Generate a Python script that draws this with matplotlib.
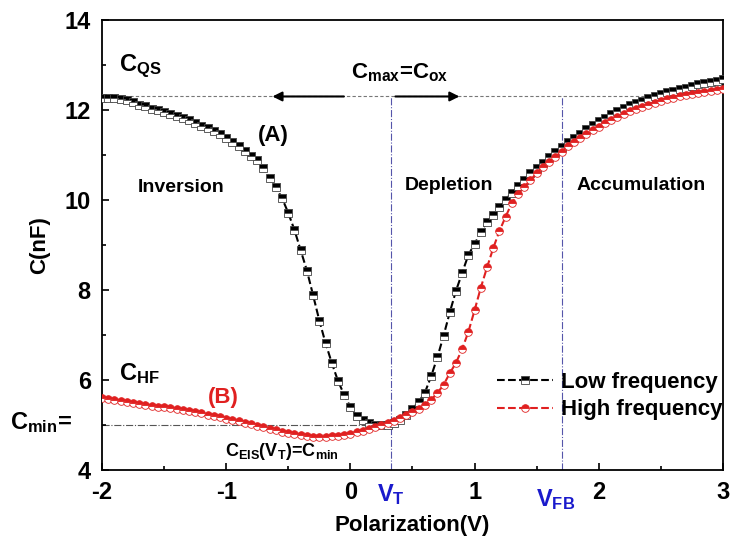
import numpy as np
import matplotlib
matplotlib.use('Agg')
import matplotlib.pyplot as plt
from matplotlib.ticker import MultipleLocator

# # # # # # # # # # # # # # # # # # # # # # # # # # # # # # # # # # # # # # #
# data (one point every 0.05 V, from -2 V to 3 V)

bias = np.linspace(-2.0, 3.0, 101)

low_freq = [
  12.27, 12.27, 12.26, 12.24, 12.22, 12.17, 12.12, 12.08, 12.03, 11.99,
  11.96, 11.92, 11.87, 11.82, 11.77, 11.71, 11.65, 11.59, 11.54, 11.47,
  11.38, 11.28, 11.19, 11.09, 10.98, 10.88, 10.72, 10.48, 10.28, 10.04,
  9.71, 9.33, 8.88, 8.43, 7.88, 7.32, 6.82, 6.38, 5.98, 5.67,
  5.40, 5.20, 5.10, 5.04, 5.01, 5.00, 5.01, 5.04, 5.12, 5.23,
  5.36, 5.51, 5.72, 6.08, 6.50, 6.98, 7.50, 7.98, 8.38, 8.78,
  9.02, 9.29, 9.51, 9.67, 9.84, 10.01, 10.16, 10.30, 10.44, 10.59,
  10.71, 10.83, 10.95, 11.07, 11.18, 11.29, 11.38, 11.47, 11.57, 11.67,
  11.75, 11.83, 11.90, 11.98, 12.05, 12.11, 12.16, 12.20, 12.26, 12.30,
  12.35, 12.39, 12.43, 12.46, 12.49, 12.53, 12.57, 12.60, 12.63, 12.65,
  12.68]

high_freq = [
  5.60, 5.58, 5.56, 5.54, 5.52, 5.49, 5.47, 5.45, 5.43, 5.41,
  5.39, 5.37, 5.35, 5.33, 5.31, 5.29, 5.26, 5.23, 5.20, 5.17,
  5.14, 5.11, 5.08, 5.05, 5.02, 4.98, 4.95, 4.92, 4.88, 4.85,
  4.82, 4.79, 4.77, 4.75, 4.74, 4.73, 4.73, 4.75, 4.76, 4.78,
  4.81, 4.84, 4.87, 4.91, 4.95, 5.00, 5.04, 5.08, 5.15, 5.22,
  5.28, 5.35, 5.44, 5.56, 5.71, 5.89, 6.15, 6.38, 6.69, 7.07,
  7.55, 8.05, 8.50, 8.93, 9.31, 9.63, 9.93, 10.13, 10.29, 10.44,
  10.60, 10.73, 10.84, 10.96, 11.07, 11.19, 11.28, 11.37, 11.47, 11.55,
  11.63, 11.71, 11.78, 11.85, 11.91, 11.97, 12.02, 12.07, 12.12, 12.16,
  12.20, 12.24, 12.27, 12.30, 12.33, 12.36, 12.38, 12.40, 12.42, 12.44,
  12.46]

c_ox = 12.3    # C_max = C_ox
c_min = 5.0
v_t = 0.33
v_fb = 1.70

# # # # # # # # # # # # # # # # # # # # # # # # # # # # # # # # # # # # # # #

plt.rcParams['font.family'] = ['Liberation Sans', 'DejaVu Sans']
plt.rcParams['font.weight'] = 'bold'
plt.rcParams['axes.labelweight'] = 'bold'
plt.rcParams['axes.unicode_minus'] = False
plt.rcParams['mathtext.fontset'] = 'custom'
plt.rcParams['mathtext.rm'] = 'Liberation Sans:bold'
plt.rcParams['mathtext.it'] = 'Liberation Sans:bold'
plt.rcParams['mathtext.bf'] = 'Liberation Sans:bold'

fig = plt.figure(figsize=(7.3, 5.52), dpi=100)
ax = fig.add_axes([0.1397, 0.1486, 0.8507, 0.8152])

# guide lines
ax.plot([-2, 2.5], [c_ox, c_ox], color='#777777', ls=(0, (3, 2)), lw=0.8, zorder=1)
ax.plot([-2, v_t], [c_min, c_min], color='#555555', ls='-.', lw=0.8, zorder=1)
ax.plot([v_t, v_t], [4, c_ox], color='#5555aa', ls='-.', lw=0.8, zorder=1)
ax.plot([v_fb, v_fb], [4, c_ox], color='#5555aa', ls='-.', lw=0.8, zorder=1)

# curves
ax.plot(bias, low_freq, color='black', ls='--', lw=1.5, marker='s', ms=5.5,
        fillstyle='top', markerfacecolor='black', markerfacecoloralt='white',
        markeredgecolor='#444444', markeredgewidth=0.6, label='Low frequency', zorder=3)
ax.plot(bias, high_freq, color='#e02020', ls='--', lw=1.5, marker='o', ms=5.5,
        fillstyle='top', markerfacecolor='#e02020', markerfacecoloralt='white',
        markeredgecolor='#e02020', markeredgewidth=0.6, label='High frequency', zorder=3)

# arrows around C_max = C_ox
ax.annotate('', xy=(-0.65, c_ox), xytext=(-0.03, c_ox),
            arrowprops=dict(arrowstyle='-|>', color='black', lw=1.5, mutation_scale=14))
ax.annotate('', xy=(0.90, c_ox), xytext=(0.34, c_ox),
            arrowprops=dict(arrowstyle='-|>', color='black', lw=1.5, mutation_scale=14))

# annotations
ax.text(0.40, 12.83, r'C$_{\rm max}$=C$_{\rm ox}$', fontsize=16, ha='center', va='center')
ax.text(-1.86, 12.98, r'C$_{\rm QS}$', fontsize=17, ha='left', va='center')
ax.text(-1.86, 6.15, r'C$_{\rm HF}$', fontsize=17, ha='left', va='center')
ax.text(-0.62, 11.44, '(A)', fontsize=16, ha='center', va='center')
ax.text(-1.02, 5.62, '(B)', fontsize=16, ha='center', va='center', color='#e02020')
ax.text(-1.36, 10.27, 'Inversion', fontsize=14, ha='center', va='center')
ax.text(0.79, 10.33, 'Depletion', fontsize=14, ha='center', va='center')
ax.text(2.34, 10.33, 'Accumulation', fontsize=14, ha='center', va='center')
ax.text(-0.55, 4.42, r'C$_{\rm EIS}$(V$_{\rm T}$)=C$_{\rm min}$', fontsize=13,
        ha='center', va='center')
ax.text(-2.24, 5.05, r'C$_{\rm min}$=', fontsize=17, ha='right', va='center', clip_on=False)
ax.text(v_t, 3.45, r'V$_{\rm T}$', fontsize=17, ha='center', va='center',
        color='#1a1acc', clip_on=False)
ax.text(v_fb - 0.05, 3.35, r'V$_{\rm FB}$', fontsize=17, ha='center', va='center',
        color='#1a1acc', clip_on=False)

# axes
ax.set_xlim(-2, 3)
ax.set_ylim(4, 14)
ax.xaxis.set_major_locator(MultipleLocator(1))
ax.xaxis.set_minor_locator(MultipleLocator(0.5))
ax.yaxis.set_major_locator(MultipleLocator(2))
ax.yaxis.set_minor_locator(MultipleLocator(1))
ax.tick_params(which='both', direction='in', width=1.2, labelsize=17, pad=8)
ax.tick_params(which='major', length=5)
ax.tick_params(which='minor', length=3)
for sp in ax.spines.values():
  sp.set_linewidth(1.3)

ax.set_xlabel('Polarization(V)', fontsize=16, labelpad=8)
ax.set_ylabel('C(nF)', fontsize=16, labelpad=10)

ax.legend(loc='lower right', bbox_to_anchor=(1.0, 0.11), frameon=False,
          fontsize=16, handlelength=2.5, handletextpad=0.4, labelspacing=0.3,
          borderpad=0, borderaxespad=0)

fig.savefig('out.png', dpi=100)
